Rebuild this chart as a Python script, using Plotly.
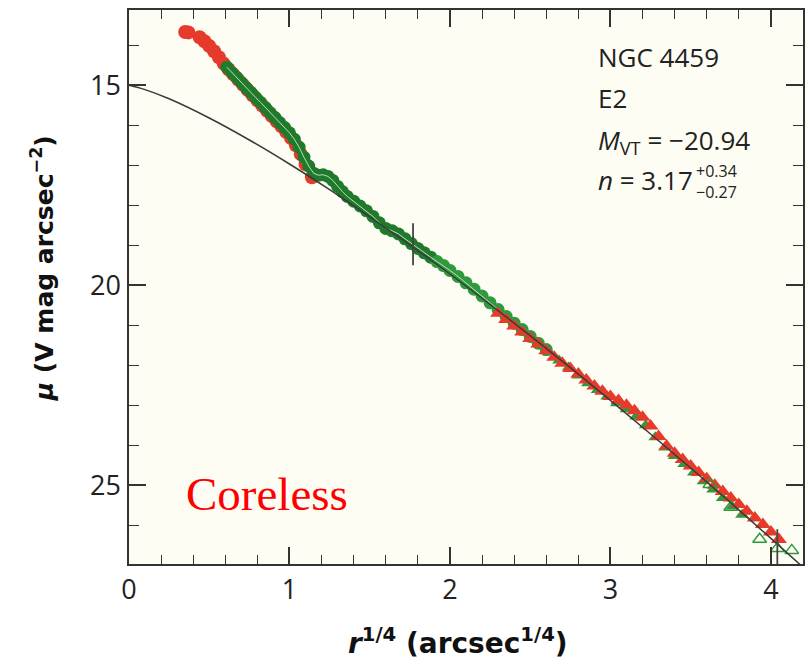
import plotly.graph_objects as go

# ---------------- data ----------------
red_in_x = [0.35, 0.37, 0.44, 0.47, 0.50, 0.53, 0.56, 0.59, 0.62, 0.65, 0.68, 0.71, 0.74,
            0.77, 0.80, 0.83, 0.86, 0.89, 0.92, 0.95, 0.98, 1.01, 1.04, 1.07, 1.10, 1.14]
red_in_mu = [13.67, 13.68, 13.80, 13.90, 14.02, 14.15, 14.30, 14.46, 14.60, 14.73, 14.86, 14.99, 15.12,
             15.25, 15.38, 15.51, 15.64, 15.77, 15.90, 16.03, 16.17, 16.32, 16.50, 16.72, 16.98, 17.30]

green_in_x = [0.61, 0.64, 0.67, 0.70, 0.73, 0.76, 0.79, 0.82, 0.85, 0.88, 0.91, 0.94, 0.97, 1.00,
              1.03, 1.06, 1.09, 1.12, 1.15, 1.18, 1.21, 1.24, 1.27, 1.30, 1.33, 1.36, 1.40, 1.44,
              1.48, 1.52, 1.56, 1.60, 1.64, 1.68, 1.72, 1.76, 1.80, 1.84, 1.88, 1.92, 1.96, 2.00,
              2.05, 2.10, 2.15, 2.20, 2.25, 2.30, 2.35, 2.40, 2.45, 2.50, 2.55, 2.60]
green_in_mu = [14.55, 14.68, 14.80, 14.93, 15.06, 15.18, 15.31, 15.43, 15.56, 15.69, 15.81, 15.94, 16.06, 16.19,
               16.35, 16.55, 16.80, 17.02, 17.20, 17.25, 17.24, 17.28, 17.38, 17.53, 17.66, 17.78, 17.90, 18.02,
               18.14, 18.28, 18.44, 18.58, 18.64, 18.72, 18.84, 18.96, 19.08, 19.19, 19.30, 19.41, 19.51, 19.63,
               19.78, 19.94, 20.10, 20.27, 20.44, 20.61, 20.78, 20.95, 21.11, 21.28, 21.45, 21.61]

red_out_x = [2.30, 2.35, 2.40, 2.45, 2.50, 2.55, 2.60, 2.65, 2.70, 2.75, 2.80, 2.85, 2.90, 2.95,
             3.00, 3.05, 3.10, 3.15, 3.20, 3.25, 3.30, 3.35, 3.40, 3.45, 3.50, 3.55, 3.60, 3.65,
             3.70, 3.75, 3.80, 3.85, 3.90, 3.95, 4.00, 4.05]
red_out_mu = [20.70, 20.86, 21.02, 21.17, 21.33, 21.47, 21.64, 21.80, 21.95, 22.08, 22.22, 22.37, 22.52, 22.65,
              22.78, 22.88, 23.00, 23.14, 23.30, 23.52, 23.78, 24.02, 24.20, 24.36, 24.52, 24.68, 24.84, 25.00,
              25.16, 25.32, 25.48, 25.65, 25.82, 25.98, 26.17, 26.36]

green_out_x = [2.62, 2.68, 2.74, 2.80, 2.86, 2.92, 2.98, 3.04, 3.10, 3.16, 3.22, 3.28, 3.34, 3.40,
               3.46, 3.52, 3.58, 3.64, 3.70, 3.76, 3.82]
green_out_mu = [21.68, 21.88, 22.06, 22.26, 22.45, 22.62, 22.78, 22.95, 23.10, 23.28, 23.50, 23.80, 24.06, 24.27,
                24.47, 24.68, 24.90, 25.11, 25.32, 25.53, 25.74]

green_open_x = [3.62, 3.75, 3.93, 4.04, 4.13]
green_open_mu = [24.98, 25.55, 26.35, 26.58, 26.63]

# Sersic fit (n = 3.17)
fit_x = [0.00, 0.10, 0.25, 0.50, 0.75, 1.00, 1.25, 1.50, 1.75, 2.00, 2.25, 2.50, 2.75,
         3.00, 3.25, 3.50, 3.75, 4.00, 4.20]
fit_mu = [15.00, 15.11, 15.34, 15.82, 16.37, 16.97, 17.61, 18.29, 18.99, 19.72, 20.48, 21.26, 22.06,
          22.88, 23.72, 24.57, 25.44, 26.33, 27.05]

# radius markers (vertical bars)
bar_x = [1.77, 4.04]
bar_mu_top = [18.45, 26.10]
bar_mu_bot = [19.50, 27.00]

x_ticks = [0, 1, 2, 3, 4]
y_ticks = [15, 20, 25]

# ---------------- figure ----------------
RED = "#e63b2b"
DKGREEN = "#1f7a2c"
GREEN = "#2e9a3b"
AX = "#333333"

fig = go.Figure()

fig.add_trace(go.Scatter(x=red_in_x, y=red_in_mu, mode="markers",
                         marker=dict(symbol="circle", size=14, color=RED, line=dict(width=0))))
fig.add_trace(go.Scatter(x=green_in_x, y=green_in_mu, mode="markers",
                         marker=dict(symbol="circle", size=13,
                                     color=[DKGREEN if v < 1.9 else GREEN for v in green_in_x],
                                     line=dict(width=0))))
fig.add_trace(go.Scatter(x=green_in_x, y=green_in_mu, mode="lines",
                         line=dict(color="rgba(205,232,205,0.9)", width=1)))
fig.add_trace(go.Scatter(x=green_out_x, y=green_out_mu, mode="markers",
                         marker=dict(symbol="triangle-up", size=12, color=GREEN, line=dict(width=0))))
fig.add_trace(go.Scatter(x=red_out_x, y=red_out_mu, mode="markers",
                         marker=dict(symbol="triangle-up", size=14, color=RED, line=dict(width=0))))
fig.add_trace(go.Scatter(x=green_open_x, y=green_open_mu, mode="markers",
                         marker=dict(symbol="triangle-up-open", size=12, color=GREEN,
                                     line=dict(width=1.5, color=GREEN))))
fig.add_trace(go.Scatter(x=fit_x, y=fit_mu, mode="lines", line=dict(color="#3a3a3a", width=1.5),
                         line_shape="spline"))
for bx, bt, bb in zip(bar_x, bar_mu_top, bar_mu_bot):
    fig.add_trace(go.Scatter(x=[bx, bx], y=[bt, bb], mode="lines",
                             line=dict(color="#444444", width=1.8)))

tickfont = dict(family="Open Sans", size=27, color="#222222")
axis_common = dict(showline=True, linecolor=AX, linewidth=1.5, mirror="allticks",
                   ticks="inside", ticklen=17, tickwidth=1.5, tickcolor=AX,
                   showgrid=False, zeroline=False, tickfont=tickfont)

fig.update_xaxes(range=[0, 4.2], tickvals=x_ticks, ticklabelstandoff=1,
                 minor=dict(dtick=0.2, ticks="inside", ticklen=9, tickwidth=1.2, tickcolor=AX),
                 **axis_common)
fig.update_yaxes(range=[26.97, 13.12], tickvals=y_ticks, ticklabelstandoff=1,
                 minor=dict(dtick=1, ticks="inside", ticklen=10, tickwidth=1.2, tickcolor=AX),
                 **axis_common)

ann_font = dict(family="Open Sans", size=26, color="#222222")
small_font = dict(family="Open Sans", size=16, color="#222222")
title_font = dict(family="DejaVu Sans", size=25, color="#111111")

annotations = [
    dict(text="NGC 4459", x=0.6923, y=(564 - 57) / 554, xanchor="left", yanchor="middle", font=ann_font),
    dict(text="E2", x=0.6923, y=(564 - 98) / 554, xanchor="left", yanchor="middle", font=ann_font),
    dict(text="<i>M</i><sub>VT</sub> = −20.94", x=0.6923, y=(564 - 141) / 554, xanchor="left",
         yanchor="middle", font=ann_font),
    dict(text="<i>n</i> = 3.17", x=0.6923, y=(564 - 180) / 554, xanchor="left", yanchor="middle",
         font=ann_font),
    dict(text="+0.34<br>−0.27", x=(697 - 129) / 676, y=(564 - 182) / 554, xanchor="left",
         yanchor="middle", align="left", font=small_font, borderpad=0),
    dict(text="Coreless", x=(184 - 129) / 676, y=(564 - 494) / 554, xanchor="left", yanchor="middle",
         font=dict(family="Liberation Serif", size=47, color="#ff0000")),
    dict(text="<b><i>μ</i> (V mag arcsec<sup>−2</sup>)</b>", x=(42 - 129) / 676, y=(564 - 268) / 554,
         xanchor="center", yanchor="middle", textangle=-90, font=title_font),
    dict(text="<b><i>r</i><sup>1/4</sup> (arcsec<sup>1/4</sup>)</b>", x=(459 - 129) / 676,
         y=(564 - 641) / 554, xanchor="center", yanchor="middle",
         font=dict(family="DejaVu Sans", size=28, color="#111111")),
]
for a in annotations:
    a.update(xref="paper", yref="paper", showarrow=False)

fig.update_layout(width=809, height=664, margin=dict(l=129, r=4, t=10, b=100),
                  plot_bgcolor="#fdfdf4", paper_bgcolor="#ffffff", showlegend=False,
                  annotations=annotations)

fig.write_html("out.html")
